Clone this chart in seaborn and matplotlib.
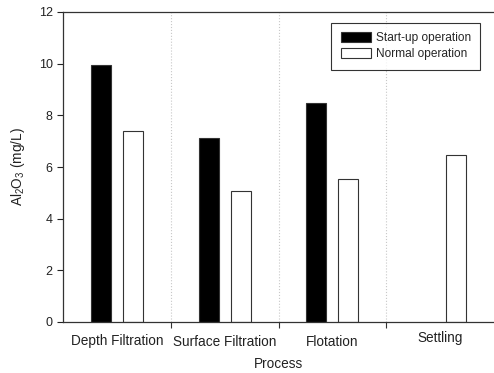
import pandas as pd
import seaborn as sns
import matplotlib.pyplot as plt
from matplotlib.ticker import FixedLocator

# Data
processes = ["Depth Filtration", "Surface Filtration", "Flotation", "Settling"]
startup = [9.96, 7.13, 8.47, None]
normal = [7.41, 5.09, 5.55, 6.47]
modes = ["Start-up operation", "Normal operation"]

rows = []
for p, s, n in zip(processes, startup, normal):
    if s is not None:
        rows.append({"Process": p, "Mode": modes[0], "Al2O3": s})
    rows.append({"Process": p, "Mode": modes[1], "Al2O3": n})
df = pd.DataFrame(rows)

sns.set_style("white")
plt.rcParams["font.family"] = ["Liberation Sans", "DejaVu Sans"]
plt.rcParams["mathtext.fontset"] = "custom"
plt.rcParams["mathtext.rm"] = "Liberation Sans"
plt.rcParams["mathtext.it"] = "Liberation Sans"

fig = plt.figure(figsize=(4.94, 3.73), dpi=100)
ax = fig.add_axes([63 / 494, 51 / 373, 431 / 494, 310 / 373])

sns.barplot(data=df, x="Process", y="Al2O3", hue="Mode", order=processes,
            hue_order=modes, palette=["black", "white"], width=0.593, gap=0.376,
            edgecolor="#333333", linewidth=0.8, ax=ax)

# dotted separators between process groups
for xs in [0.5, 1.5, 2.5]:
    ax.axvline(xs, color="#c8c8c8", linestyle=":", linewidth=0.8, zorder=0)

ax.set_xlim(-0.5, 3.5)
ax.set_ylim(0, 12)
ax.set_yticks(range(0, 13, 2))
ax.xaxis.set_minor_locator(FixedLocator([0.5, 1.5, 2.5]))
ax.tick_params(axis="x", which="major", length=0, labelsize=9.8, pad=9, colors="#222222")
ax.tick_params(axis="x", which="minor", length=4, width=0.8, direction="out", color="#333333", bottom=True)
ax.tick_params(axis="y", length=4, width=0.8, direction="out", labelsize=9, left=True, colors="#222222")
# the last label sits a little higher in the original
ax.get_xticklabels()[-1].set_y(0.012)

for side in ["left", "bottom", "top"]:
    ax.spines[side].set_color("#333333")
    ax.spines[side].set_linewidth(0.9)
ax.spines["right"].set_visible(False)

ax.set_xlabel("Process", fontsize=9.8, color="#222222", labelpad=6)
ax.set_ylabel(r"Al$_2$O$_3$ (mg/L)", fontsize=9.8, color="#222222", labelpad=8)

leg = ax.legend(loc="upper right", bbox_to_anchor=(0.968, 0.965), borderaxespad=0,
                fontsize=8.6, frameon=True, fancybox=False, handlelength=2.5,
                handleheight=0.9, borderpad=0.8, labelspacing=0.3, handletextpad=0.4)
leg.get_frame().set_edgecolor("black")
leg.get_frame().set_linewidth(0.8)

fig.savefig("out.png", dpi=100)
